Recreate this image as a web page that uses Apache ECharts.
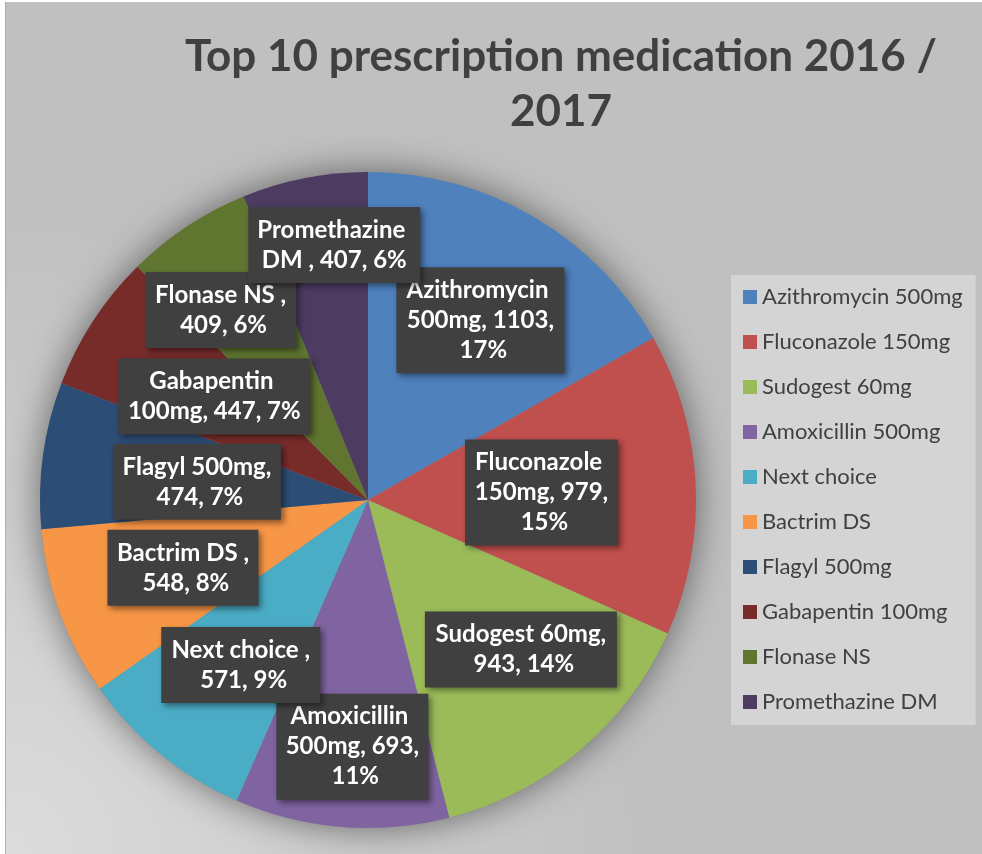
<!DOCTYPE html>
<html>
<head>
<meta charset="utf-8">
<title>Top 10 prescription medication 2016 / 2017</title>
<script src="https://cdn.jsdelivr.net/npm/echarts@6/dist/echarts.min.js"></script>
<style>
  html, body { margin: 0; padding: 0; background: #fff; }
  #chart {
    position: absolute;
    left: 5px;
    top: 2px;
    width: 977px;
    height: 852px;
    border-left: 1px solid #b0b0b0;
    box-sizing: border-box;
  }
</style>
</head>
<body>
<div id="chart"></div>
<script>
// top 10 prescriptions (count per drug)
const categories = [
  'Azithromycin 500mg', 'Fluconazole 150mg', 'Sudogest 60mg', 'Amoxicillin 500mg',
  'Next choice ', 'Bactrim DS ', 'Flagyl 500mg', 'Gabapentin 100mg',
  'Flonase NS ', 'Promethazine DM '
]
const prescriptions = [1103, 979, 943, 693, 571, 548, 474, 447, 409, 407]

// styling only
const sliceColors = [
  '#4F81BD', '#C0504D', '#9BBB59', '#8064A2', '#4BACC6',
  '#F79646', '#2C4D75', '#772C2A', '#5F7530', '#4D3B62'
]
const labelWrapWidths = [152, 137, 176, 136, 143, 135, 152, 176, 135, 156]
// label distance from centre (fraction of radius) and turn off the mid angle (deg, clockwise)
const labelReach = [0.635, 0.52, 0.64, 0.74, 0.624, 0.59, 0.515, 0.555, 0.72, 0.77]
const labelTurn = [1.8, 0.3, -5.5, -1, -1.6, 0, -1.8, 0.9, -4.3, 3.6]

const PIE_CX = 362
const PIE_CY = 498
const PIE_R = 328

const chart = echarts.init(document.getElementById('chart'))
const total = prescriptions.reduce((a, b) => a + b, 0)

const pieData = categories.map((name, i) => ({
  name,
  value: prescriptions[i],
  itemStyle: { color: sliceColors[i] },
  label: { width: labelWrapWidths[i] },
}))

const option = {
  animation: false,
  backgroundColor: {
    type: 'radial', x: 0, y: 1, r: 0.75,
    colorStops: [
      { offset: 0, color: '#dcdcdc' },
      { offset: 1, color: '#c0c0c0' },
    ],
  },
  title: {
    text: 'Top 10 prescription medication 2016 /\n2017',
    left: 555,
    top: 27,
    padding: 0,
    textAlign: 'center',
    textStyle: {
      fontFamily: 'Lato',
      fontWeight: 'bold',
      fontSize: 44,
      lineHeight: 55,
      color: '#404040',
    },
  },
  legend: {
    orient: 'vertical',
    left: 725,
    top: 273,
    padding: [11, 13, 12, 12],
    backgroundColor: '#d4d4d4',
    icon: 'rect',
    itemWidth: 14,
    itemHeight: 14,
    itemGap: 23,
    textStyle: { fontFamily: 'Lato', fontSize: 22, lineHeight: 22, color: '#404040' },
    data: categories,
  },
  series: [
    {
      // soft glow under the whole pie
      type: 'pie',
      name: 'shadow',
      silent: true,
      center: [PIE_CX, PIE_CY],
      radius: PIE_R,
      data: [{ name: 'all', value: total }],
      itemStyle: { color: '#8c8c8c', shadowBlur: 36, shadowColor: 'rgba(0,0,0,0.5)' },
      label: { show: false },
      labelLine: { show: false },
      z: 1,
    },
    {
      type: 'pie',
      name: 'Prescriptions',
      center: [PIE_CX, PIE_CY],
      radius: PIE_R,
      startAngle: 90,
      clockwise: true,
      percentPrecision: 0,
      itemStyle: { borderWidth: 0 },
      label: {
        show: true,
        position: 'inside',
        formatter: p => `${p.name}, ${p.value}, ${p.percent}%`,
        overflow: 'break',
        align: 'center',
        fontFamily: 'Lato',
        fontWeight: 'bold',
        fontSize: 24,
        lineHeight: 30,
        color: '#ffffff',
        backgroundColor: '#404040',
        padding: [8, 8],
        shadowBlur: 6,
        shadowOffsetX: 3,
        shadowOffsetY: 3,
        shadowColor: 'rgba(0,0,0,0.45)',
      },
      labelLine: { show: false },
      labelLayout: params => {
        const r = params.labelRect
        const dx = r.x + r.width / 2 - PIE_CX
        const dy = r.y + r.height / 2 - PIE_CY
        const k = labelReach[params.dataIndex] / 0.5
        const t = labelTurn[params.dataIndex] * Math.PI / 180
        return {
          x: PIE_CX + (dx * Math.cos(t) - dy * Math.sin(t)) * k,
          y: PIE_CY + (dx * Math.sin(t) + dy * Math.cos(t)) * k,
        }
      },
      data: pieData,
      z: 2,
    },
  ],
}

chart.setOption(option)
window.addEventListener('resize', () => chart.resize())
</script>
</body>
</html>
